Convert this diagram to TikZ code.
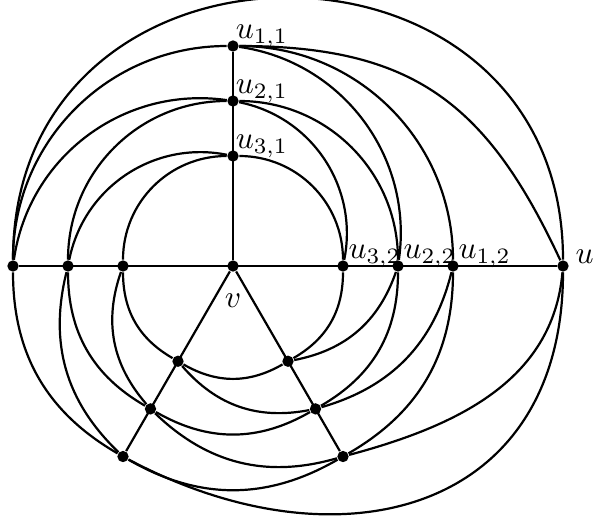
\documentclass[tikz,border=0pt]{standalone}
\usetikzlibrary{calc}
\begin{document}
\begin{tikzpicture}[x=0.614cm,y=0.614cm,
  dot/.style={circle,fill=black,inner sep=0pt,minimum size=3.6pt},
  edge/.style={line width=0.7pt},
  lab/.style={anchor=base west,inner sep=0pt}]
\useasboundingbox (-4.2364,-4.6364) rectangle (6.5636,4.8364);
% vertices
\node[dot] (v) at (0,0) {};
\node[dot] (u) at (6,0) {};
\foreach \n/\a in {U/90,R/0,B/-60,A/-120,L/180}{
  \node[dot] (\n1) at (\a:4) {};
  \node[dot] (\n2) at (\a:3) {};
  \node[dot] (\n3) at (\a:2) {};
}
% straight edges
\draw[edge] (U1) -- (v);
\draw[edge] (L1) -- (u);
\draw[edge] (v) -- (A1);
\draw[edge] (v) -- (B1);
% curved edges between consecutive rays
\foreach \P/\Q/\b in {L/U/45, U/R/45, R/B/30, B/A/30, A/L/30}{
  \draw[edge] (\P1) to[bend left=\b] (\Q1);
  \draw[edge] (\P2) to[bend left=\b] (\Q2);
  \draw[edge] (\P3) to[bend left=\b] (\Q3);
  \draw[edge] (\P1) to[bend left=\b] (\Q2);
  \draw[edge] (\P2) to[bend left=\b] (\Q3);
}
% edges at u
\draw[edge] (L1) to[out=90,in=90,looseness=1.63] (u);
\draw[edge] (U1) to[out=0,in=115,looseness=1.15] (u);
\draw[edge] (u) to[out=-95,in=15] (B1);
\draw[edge] (u) to[out=-90,in=-28,looseness=1.3] (A1);
% labels
\node[lab] (lU1) at ($(U1)+(0.04,0.13)$) {$u_{1,1}$};
\node[lab] (lU2) at ($(U2)+(0.04,0.13)$) {$u_{2,1}$};
\node[lab] (lU3) at ($(U3)+(0.04,0.13)$) {$u_{3,1}$};
\node[lab] (lR3) at ($(R3)+(0.09,0.14)$) {$u_{3,2}$};
\node[lab] (lR2) at ($(R2)+(0.09,0.14)$) {$u_{2,2}$};
\node[lab] (lR1) at ($(R1)+(0.09,0.14)$) {$u_{1,2}$};
\node[lab] (lu) at ($(u)+(0.22,0.05)$) {$u$};
\node[anchor=base,inner sep=0pt] (lv) at ($(v)+(0,-0.75)$) {$v$};
\end{tikzpicture}
\end{document}
